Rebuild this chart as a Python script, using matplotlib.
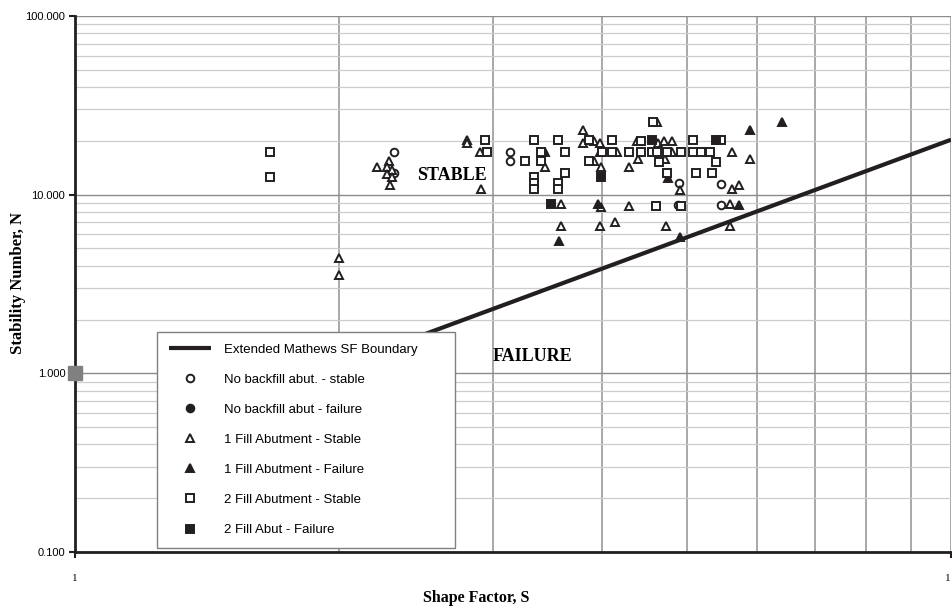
import matplotlib
matplotlib.use('Agg')
import matplotlib.pyplot as plt
from matplotlib.ticker import FixedLocator, FixedFormatter, LogLocator, NullFormatter

# boundary line (Shape Factor S, Stability Number N)
boundary_s = [2.0, 10.0]
boundary_n = [1.1, 20.3]

# no backfill abutment
nb_stable_s = [2.31, 2.31, 3.14, 3.14, 4.89, 4.88, 5.46, 5.46]
nb_stable_n = [17.4, 13.2, 17.4, 15.5, 11.6, 8.7, 11.5, 8.8]
nb_fail_s = []
nb_fail_n = []

# 1 fill abutment
f1_stable_s = [2.0, 2.0, 2.21, 2.28, 2.27, 2.30, 2.27, 2.30, 2.29,
               2.80, 2.80, 2.90, 2.91, 3.44, 3.59, 3.59,
               3.80, 3.80, 3.91, 3.97, 3.97, 3.91, 3.99, 3.99, 3.97, 4.14, 4.16,
               4.62, 4.38, 4.63, 4.70, 4.80, 4.80, 4.39, 4.72, 4.29, 4.91, 4.29, 4.73,
               5.62, 5.90, 5.62, 5.73, 5.59, 5.59]
f1_stable_n = [4.43, 3.56, 14.3, 15.5, 14.3, 13.8, 13.1, 12.6, 11.35,
               20.3, 19.5, 17.4, 10.8, 14.3, 8.9, 6.7,
               22.9, 19.5, 20.0, 19.5, 17.4, 15.5, 14.3, 8.55, 6.7, 7.04, 17.4,
               25.6, 20.0, 19.5, 20.0, 20.0, 17.4, 15.9, 15.9, 14.3, 10.6, 8.66, 6.7,
               17.4, 15.9, 10.8, 11.35, 8.88, 6.7]
f1_fail_s = [3.44, 3.57, 3.95, 4.75, 4.90, 5.73, 5.90, 6.41]
f1_fail_n = [17.4, 5.5, 8.88, 12.4, 5.8, 8.77, 22.9, 25.4]

# 2 fill abutment
f2_stable_s = [1.67, 1.67, 2.94, 2.95,
               3.26, 3.34, 3.40, 3.40, 3.34, 3.34, 3.34, 3.56, 3.63, 3.63, 3.56, 3.56,
               3.86, 3.86, 4.00, 4.10, 4.10,
               4.57, 4.43, 4.29, 4.43, 4.56, 4.62, 4.74, 4.92, 5.08, 5.18, 5.31,
               5.08, 5.46, 4.64, 4.74, 5.12, 5.34, 4.61, 4.92, 5.39]
f2_stable_n = [17.4, 12.6, 20.3, 17.4,
               15.5, 20.3, 17.4, 15.5, 12.6, 11.6, 10.8, 20.3, 17.4, 13.2, 11.6, 10.8,
               20.3, 15.5, 17.4, 20.3, 17.4,
               25.6, 20.0, 17.4, 17.4, 17.4, 17.4, 17.4, 17.4, 17.4, 17.4, 17.4,
               20.3, 20.3, 15.3, 13.2, 13.2, 13.2, 8.66, 8.66, 15.3]
f2_fail_s = [3.49, 3.99, 4.56, 5.39]
f2_fail_n = [8.88, 12.6, 20.3, 20.3]

# stray gray point on the axis
extra_s = [1.0]
extra_n = [1.0]

ink = '#231f20'
serif = ['Liberation Serif', 'DejaVu Serif']
sans = ['Liberation Sans', 'DejaVu Sans']

fig = plt.figure(figsize=(9.53, 6.09), dpi=100)
ax = fig.add_axes([75 / 953, 1 - 552 / 609, 876 / 953, 536 / 609])
ax.set_xscale('log')
ax.set_yscale('log')
ax.set_xlim(1, 10)
ax.set_ylim(0.1, 100)

ax.plot(boundary_s, boundary_n, color=ink, lw=3, solid_capstyle='butt',
        label='Extended Mathews SF Boundary', zorder=3)
mk = dict(ls='none', ms=5.5, mew=1.4, mec=ink, zorder=4)
ax.plot(nb_stable_s, nb_stable_n, marker='o', mfc='white',
        label='No backfill abut. - stable', **mk)
ax.plot(nb_fail_s, nb_fail_n, marker='o', mfc=ink,
        label='No backfill abut - failure', **mk)
ax.plot(f1_stable_s, f1_stable_n, marker='^', mfc='white',
        label='1 Fill Abutment - Stable', **mk)
ax.plot(f1_fail_s, f1_fail_n, marker='^', mfc=ink,
        label='1 Fill Abutment - Failure', **mk)
ax.plot(f2_stable_s, f2_stable_n, marker='s', mfc='white',
        label='2 Fill Abutment - Stable', **mk)
ax.plot(f2_fail_s, f2_fail_n, marker='s', mfc=ink,
        label='2 Fill Abut - Failure', **mk)
ax.plot(extra_s, extra_n, ls='none', marker='s', ms=9.5, color='#808080',
        clip_on=False, zorder=5)

# grid
ax.yaxis.set_major_locator(FixedLocator([0.1, 1, 10, 100]))
ax.yaxis.set_major_formatter(FixedFormatter(['0.100', '1.000', '10.000', '100.000']))
ax.yaxis.set_minor_locator(LogLocator(base=10, subs=range(2, 10)))
ax.yaxis.set_minor_formatter(NullFormatter())
ax.xaxis.set_major_locator(FixedLocator([1, 10]))
# the right-hand label is shown as "1" (cut off in the original)
ax.xaxis.set_major_formatter(FixedFormatter(['1', '1']))
ax.xaxis.set_minor_locator(LogLocator(base=10, subs=range(2, 10)))
ax.xaxis.set_minor_formatter(NullFormatter())
ax.grid(True, which='major', axis='y', color='#8c8c8c', lw=1.0)
ax.grid(True, which='minor', axis='y', color='#cccccc', lw=0.9)
ax.grid(True, which='both', axis='x', color='#9a9a9a', lw=1.2)
ax.set_axisbelow(True)

for s in ['top', 'right']:
    ax.spines[s].set_visible(False)
for s in ['left', 'bottom']:
    ax.spines[s].set_linewidth(2)
    ax.spines[s].set_color(ink)
ax.tick_params(which='major', length=4, width=1.5, color=ink, direction='out')
ax.tick_params(which='minor', length=0)
ax.tick_params(axis='y', labelsize=8, pad=3)
ax.tick_params(axis='x', labelsize=8, pad=12)
for t in ax.get_yticklabels():
    t.set_fontfamily(sans)
for t in ax.get_xticklabels():
    t.set_fontfamily(serif)
ax.get_xticklabels()[-1].set_horizontalalignment('right')

fig.text(18 / 953, 1 - 283 / 609, 'Stability Number, N', fontsize=12,
         fontweight='bold', family=serif, ha='center', va='center', rotation=90)
fig.text(476 / 953, 1 - 598 / 609, 'Shape Factor, S', fontsize=11.5,
         fontweight='bold', family=serif, ha='center', va='center')

ax.text(2.694, 12.75, 'STABLE', fontsize=13, fontweight='bold', family=serif,
        ha='center', va='center')
ax.text(3.333, 1.237, 'FAILURE', fontsize=13, fontweight='bold', family=serif,
        ha='center', va='center')

leg = ax.legend(loc='lower left',
                bbox_to_anchor=((157 - 75) / 876, 4 / 536, 298 / 876, 215 / 536),
                mode='expand', borderaxespad=0, prop={'family': sans, 'size': 9.5},
                labelspacing=1.35, handlelength=3.2, handletextpad=1.0,
                borderpad=0.9, fancybox=False, framealpha=1, numpoints=1)
leg.get_frame().set_edgecolor('#808080')
leg.get_frame().set_linewidth(1)
leg.set_zorder(10)

fig.savefig('out.png', dpi=100)
